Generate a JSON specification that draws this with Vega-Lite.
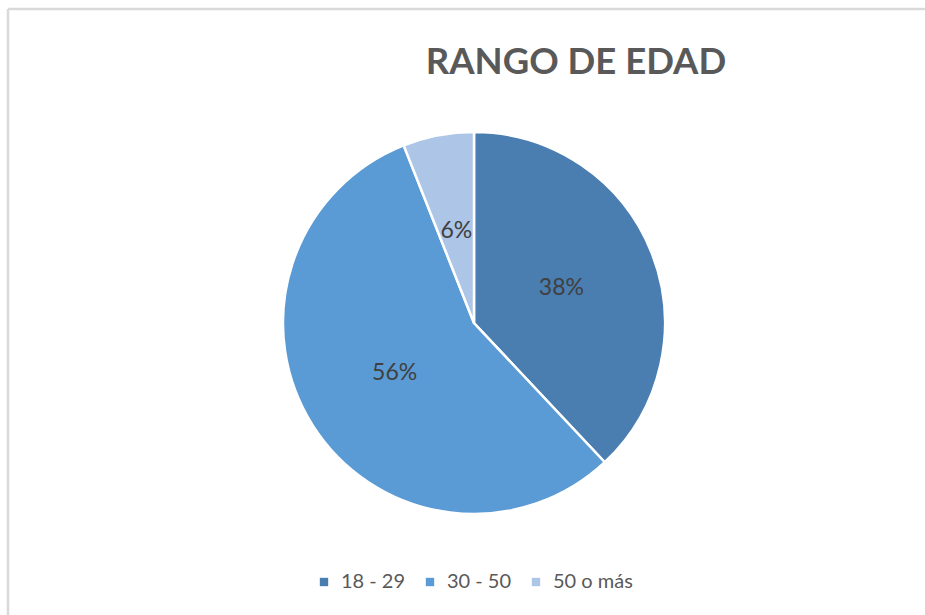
{
  "$schema": "https://vega.github.io/schema/vega-lite/v6.json",
  "width": 932,
  "height": 628,
  "autosize": "none",
  "padding": {"left": 8, "top": 9, "right": -15, "bottom": -22},
  "background": "white",
  "config": {"view": {"stroke": null}},
  "title": {
    "text": "RANGO DE EDAD",
    "font": "Lato",
    "fontSize": 36.5,
    "fontWeight": "bold",
    "color": "#595959",
    "anchor": "middle",
    "baseline": "alphabetic",
    "dx": 102,
    "offset": -103
  },
  "data": {
    "values": [
      {"rango": "18 - 29", "pct": 0.38},
      {"rango": "30 - 50", "pct": 0.56},
      {"rango": "50 o más", "pct": 0.06}
    ]
  },
  "layer": [
    {
      "data": {"values": [{"edge": "top"}]},
      "mark": {"type": "rule", "stroke": "#d9d9d9", "strokeWidth": 2.5},
      "encoding": {
        "x": {"datum": 0, "type": "quantitative", "scale": {"domain": [0, 1], "zero": false, "nice": false}, "axis": null},
        "x2": {"datum": 1},
        "y": {"datum": 1, "type": "quantitative", "scale": {"domain": [0, 1], "zero": false, "nice": false}, "axis": null}
      }
    },
    {
      "data": {"values": [{"edge": "left"}]},
      "mark": {"type": "rule", "stroke": "#d9d9d9", "strokeWidth": 2.5},
      "encoding": {
        "x": {"datum": 0, "type": "quantitative"},
        "y": {"datum": 0, "type": "quantitative"},
        "y2": {"datum": 1}
      }
    },
    {
      "mark": {"type": "arc", "outerRadius": 191, "stroke": "white", "strokeWidth": 2.5},
      "encoding": {
        "theta": {"field": "pct", "type": "quantitative", "stack": true},
        "color": {
          "field": "rango",
          "type": "nominal",
          "sort": ["18 - 29", "30 - 50", "50 o más"],
          "scale": {"domain": ["18 - 29", "30 - 50", "50 o más"], "range": ["#4a7eb0", "#5b9bd5", "#adc5e7"]},
          "legend": {
            "title": null,
            "orient": "none",
            "legendX": 306,
            "legendY": 563,
            "direction": "horizontal",
            "symbolType": "square",
            "symbolSize": 70,
            "symbolStrokeWidth": 0,
            "labelFont": "Lato",
            "labelFontSize": 20,
            "labelColor": "#595959",
            "labelOffset": 7,
            "columnPadding": 14
          }
        },
        "order": {"field": "rango", "type": "nominal", "sort": "ascending"}
      }
    },
    {
      "mark": {"type": "text", "radius": 94, "font": "Lato", "fontSize": 23, "color": "#404040"},
      "encoding": {
        "theta": {"field": "pct", "type": "quantitative", "stack": true},
        "order": {"field": "rango", "type": "nominal", "sort": "ascending"},
        "detail": {"field": "rango", "type": "nominal"},
        "text": {"field": "pct", "type": "quantitative", "format": ".0%"}
      }
    }
  ]
}
